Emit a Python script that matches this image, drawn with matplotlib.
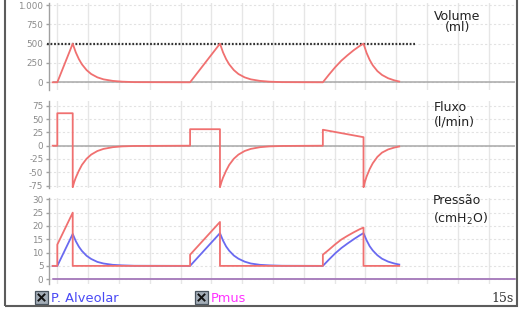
import matplotlib
matplotlib.use("Agg")
import matplotlib.pyplot as plt
from matplotlib.patches import Rectangle
from matplotlib.lines import Line2D

plt.rcParams['font.family'] = ['DejaVu Sans']
plt.rcParams['axes.unicode_minus'] = False

# ---------------- data (time in s) ----------------
vol_t = [-0.15, 0, 0.5, 0.6, 0.7, 0.8, 0.95, 1.1, 1.3, 1.5, 1.8, 2.1, 2.5, 4.31,
         5.28, 5.38, 5.48, 5.58, 5.73, 5.88, 6.08, 6.28, 6.58, 6.88, 7.3, 8.62,
         8.82, 9.02, 9.22, 9.42, 9.62, 9.82, 9.94,
         10.04, 10.14, 10.24, 10.39, 10.54, 10.74, 10.94, 11.1]
vol_ml = [0, 0, 500, 387, 300, 232, 158, 107, 64, 38, 18, 8, 2, 0,
          500, 387, 300, 232, 158, 107, 64, 38, 18, 8, 2, 0,
          100, 195, 280, 350, 415, 472, 500,
          380, 290, 220, 145, 95, 52, 25, 10]

flow_t = [-0.15, 0, 0, 0.5, 0.5, 0.55, 0.6, 0.7, 0.8, 0.95, 1.1, 1.3, 1.5, 1.8, 2.1, 2.5, 4.31,
          4.31, 5.28, 5.28, 5.33, 5.38, 5.48, 5.58, 5.73, 5.88, 6.08, 6.28, 6.58, 6.88, 7.3, 8.62,
          8.62, 9.94, 9.94, 9.99, 10.04, 10.14, 10.24, 10.39, 10.54, 10.74, 10.94, 11.1]
flow_lmin = [0, 0, 61, 61, -78, -68, -60, -47, -36, -24.5, -16.7, -10, -6, -2.8, -1.3, -0.5, 0,
             31, 31, -78, -68, -60, -47, -36, -24.5, -16.7, -10, -6, -2.8, -1.3, -0.5, 0,
             30, 16, -78, -67, -58, -44, -33, -21, -13, -7, -3.5, -1.5]

paw_t = [-0.15, 0, 0, 0.5, 0.5, 4.31, 4.31, 5.28, 5.28, 8.62, 8.62,
         8.82, 9.02, 9.22, 9.42, 9.62, 9.82, 9.94, 9.94, 11.1]
paw_cmh2o = [5, 5, 13, 25, 5, 5, 9.2, 21.5, 5, 5, 9.2,
             11.1, 13.1, 14.9, 16.3, 17.6, 18.8, 19.4, 5, 5]

palv_t = [-0.15, 0, 0.5, 0.6, 0.7, 0.8, 0.95, 1.1, 1.3, 1.5, 1.8, 2.1, 2.5, 4.31,
          5.28, 5.38, 5.48, 5.58, 5.73, 5.88, 6.08, 6.28, 6.58, 6.88, 7.3, 8.62,
          8.82, 9.02, 9.22, 9.42, 9.62, 9.82, 9.94,
          10.04, 10.14, 10.24, 10.39, 10.54, 10.74, 10.94, 11.1]
palv_cmh2o = [5, 5, 17, 14.3, 12.2, 10.6, 8.8, 7.6, 6.5, 5.9, 5.4, 5.2, 5.05, 5,
              17.3, 14.5, 12.3, 10.7, 8.9, 7.7, 6.6, 5.9, 5.4, 5.2, 5.05, 5,
              7.4, 9.7, 11.7, 13.4, 15.0, 16.5, 17.3,
              14.6, 12.4, 10.8, 9.0, 7.7, 6.6, 5.9, 5.5]

pmus_t = [-0.15, 14.85]
pmus_cmh2o = [0, 0]

target_vol_ml = 500
target_t = [-0.34, 11.61]

vol_ticks = [0, 250, 500, 750, 1000]
vol_ticklabels = ["0", "250", "500", "750", "1.000"]
flow_ticks = [-75, -50, -25, 0, 25, 50, 75]
flow_ticklabels = ["-75", "-50", "-25", "0", "25", "50", "75"]
pres_ticks = [0, 5, 10, 15, 20, 25, 30]
pres_ticklabels = ["0", "5", "10", "15", "20", "25", "30"]
time_grid = list(range(0, 15))

# ---------------- layout ----------------
W, H = 521, 311
fig = plt.figure(figsize=(W / 100, H / 100), dpi=100)
fig.patch.set_facecolor('white')


def rect(x0, ytop, x1, ybot):
    return [x0 / W, 1 - ybot / H, (x1 - x0) / W, (ybot - ytop) / H]


RED = '#f07070'
BLUE = '#6a6af0'
GRAYLINE = '#a8a8a8'
XLIM = (-0.27, 14.89)


def style(ax, ticks, labels, ylim):
    ax.set_xlim(*XLIM)
    ax.set_ylim(*ylim)
    ax.set_facecolor('white')
    for s in ['top', 'right', 'bottom']:
        ax.spines[s].set_visible(False)
    ax.spines['left'].set_color('#a0a0a0')
    ax.spines['left'].set_linewidth(1)
    ax.set_yticks(ticks)
    ax.set_yticklabels(labels)
    ax.set_xticks(time_grid)
    ax.set_xticklabels([])
    ax.tick_params(axis='x', length=0)
    ax.tick_params(axis='y', length=2.5, width=1, color='#a0a0a0',
                   labelsize=6.3, labelcolor='#8a8a8a', pad=1.5)
    ax.grid(axis='x', color='#e6e6e6', lw=1, ls='-')
    ax.grid(axis='y', color='#e2e2e2', lw=0.8, ls=(0, (2, 2)))
    ax.set_axisbelow(True)


ax_v = fig.add_axes(rect(49, 3, 516, 90))
style(ax_v, vol_ticks, vol_ticklabels, (-100, 1027))
ax_v.hlines(0, -0.15, 14.85, color=GRAYLINE, lw=1.1)
ax_v.hlines(target_vol_ml, target_t[0], target_t[1], color='#333333', lw=1.6,
            linestyles=[(0, (0.8, 0.8))], clip_on=False, zorder=4)
ax_v.plot(vol_t, vol_ml, color=RED, lw=1.3, zorder=5)

ax_f = fig.add_axes(rect(49, 101, 516, 188))
style(ax_f, flow_ticks, flow_ticklabels, (-79.5, 84))
ax_f.hlines(0, -0.15, 14.85, color=GRAYLINE, lw=1.1)
ax_f.plot(flow_t, flow_lmin, color=RED, lw=1.3, zorder=5)

ax_p = fig.add_axes(rect(49, 198, 516, 284))
style(ax_p, pres_ticks, pres_ticklabels, (-1.8, 30.5))
ax_p.hlines(0, -0.15, 14.85, color=GRAYLINE, lw=1.1)
ax_p.plot(pmus_t, pmus_cmh2o, color='#a878c0', lw=1.2, zorder=4)
ax_p.plot(palv_t, palv_cmh2o, color=BLUE, lw=1.3, zorder=5)
ax_p.plot(paw_t, paw_cmh2o, color=RED, lw=1.3, zorder=6)


# ---------------- texts ----------------
def ftext(x, y, s, **kw):
    fig.text(x / W, 1 - y / H, s, **kw)


ftext(457.5, 10.0, "Volume\n(ml)", fontsize=9.0, color='#222222', ha='center',
      va='top', multialignment='center', linespacing=0.82)
ftext(433.5, 101.3, "Fluxo\n(l/min)", fontsize=9.0, color='#222222', ha='left',
      va='top', multialignment='left', linespacing=1.1)
ftext(433.0, 194.0, "Pressão\n(cmH$_2$O)", fontsize=9.0, color='#222222', ha='left',
      va='top', multialignment='left', linespacing=1.32)

# legend checkboxes
for bx in (35, 195):
    fig.add_artist(Rectangle((bx / W, 1 - 303.5 / H), 13 / W, 12.5 / H,
                             transform=fig.transFigure, facecolor='#a3adb7',
                             edgecolor='#4a5560', lw=0.9))
    fig.add_artist(Line2D([(bx + 3.5) / W, (bx + 9.5) / W],
                          [1 - 294.5 / H, 1 - 300.5 / H],
                          transform=fig.transFigure, color='#111111', lw=1.4))
    fig.add_artist(Line2D([(bx + 3.5) / W, (bx + 9.5) / W],
                          [1 - 300.5 / H, 1 - 294.5 / H],
                          transform=fig.transFigure, color='#111111', lw=1.4))

ftext(50.7, 302.3, "P. Alveolar", fontsize=9.4, color='#4a4af5', ha='left', va='baseline')
ftext(211.0, 302.3, "Pmus", fontsize=9.3, color='#ff33ff', ha='left', va='baseline')
ftext(514.0, 302.3, "15s", fontsize=9.0, color='#333333', ha='right', va='baseline',
      family='DejaVu Serif')

# outer frame
fig.add_artist(Rectangle((4.5 / W, 1 - 306 / H), 512 / W, 320 / H,
                         transform=fig.transFigure, facecolor='none',
                         edgecolor='#5c5c5c', lw=1.5, zorder=10))

fig.savefig("out.png", dpi=100, facecolor='white')
